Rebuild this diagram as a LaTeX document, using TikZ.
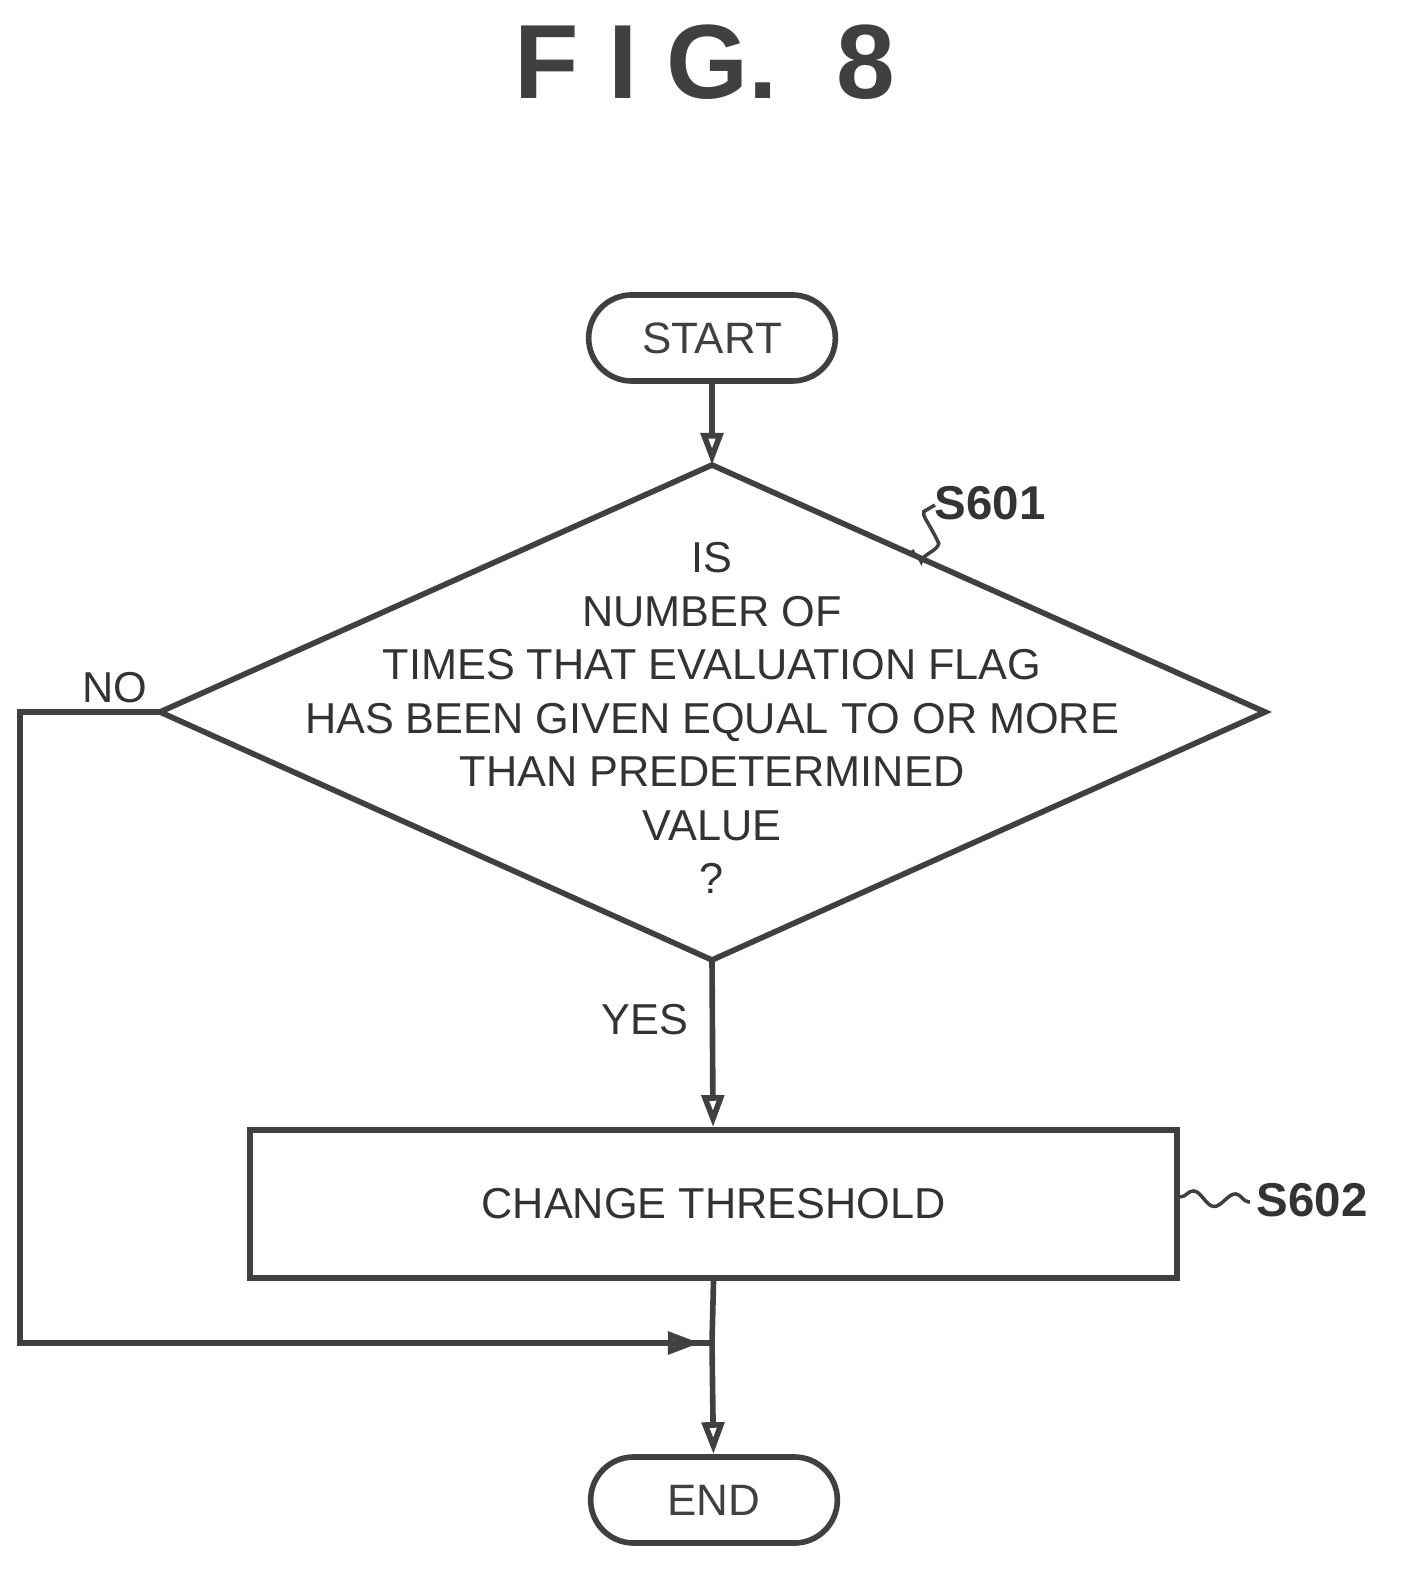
\documentclass[tikz,border=0pt]{standalone}
\usepackage{fontspec}
\setmainfont{Liberation Sans}
\usetikzlibrary{arrows.meta,shapes.misc,decorations.pathmorphing}
\begin{document}
\begin{tikzpicture}[x=0.01cm,y=-0.01cm,
  ln/.style={line width=1.6pt,black!75},
  arr/.style={ln,-{Triangle[open,length=0.32cm,width=0.22cm]}},
  term/.style={ln,draw,rounded rectangle,minimum width=2.7cm,minimum height=0.86cm,font=\fontsize{12.5pt}{15pt}\selectfont},
  txt/.style={font=\fontsize{12.3pt}{15.2pt}\selectfont,align=center,text=black!80},
  lab/.style={font=\fontsize{13.5pt}{16pt}\selectfont\bfseries,text=black!80},
  sq/.style={line width=1pt,black!75,decorate,decoration={snake,amplitude=2pt,segment length=12pt}}]
\useasboundingbox (0,0) rectangle (1404,1580);
\node[font=\fontsize{30pt}{34pt}\selectfont\bfseries,black!75] (title) at (705,62) {F I G.\ \ 8};
\node[term] (start) at (712,338) {START};
\coordinate (dt) at (712,465); \coordinate (db) at (712,960);
\coordinate (dl) at (160,712); \coordinate (dr) at (1265,712);
\draw[ln] (dt)--(dr)--(db)--(dl)--cycle;
\node[txt] (q) at (712,718) {IS\\NUMBER OF\\TIMES THAT EVALUATION FLAG\\HAS BEEN GIVEN EQUAL TO OR MORE\\THAN PREDETERMINED\\VALUE\\?};
\node[ln,draw,minimum width=9.27cm,minimum height=1.48cm,txt] (box) at (713.5,1204) {CHANGE THRESHOLD};
\node[term] (end) at (714,1500) {END};
\coordinate (c1) at (20,712); \coordinate (c2) at (20,1343); \coordinate (m) at (712,1343);
\draw[arr] (start)--(dt);
\draw[arr] (db)--(box);
\draw[ln] (box.south)--(m);
\draw[arr] (m)--(end);
\draw[ln] (dl)--(c1)--(c2)--(m);
\draw[arr] (c2)--(700,1343);
\node[txt] (yes) at (645,1020) {YES};
\node[txt] (no) at (115,688) {NO};
\node[lab] (s601) at (990,503) {S601};
\node[lab] (s602) at (1312,1200) {S602};
\draw[sq] (912,550) to[out=-80,in=180] (935,505);
\draw[sq] (1180,1197)--(1250,1202);
\end{tikzpicture}
\end{document}
